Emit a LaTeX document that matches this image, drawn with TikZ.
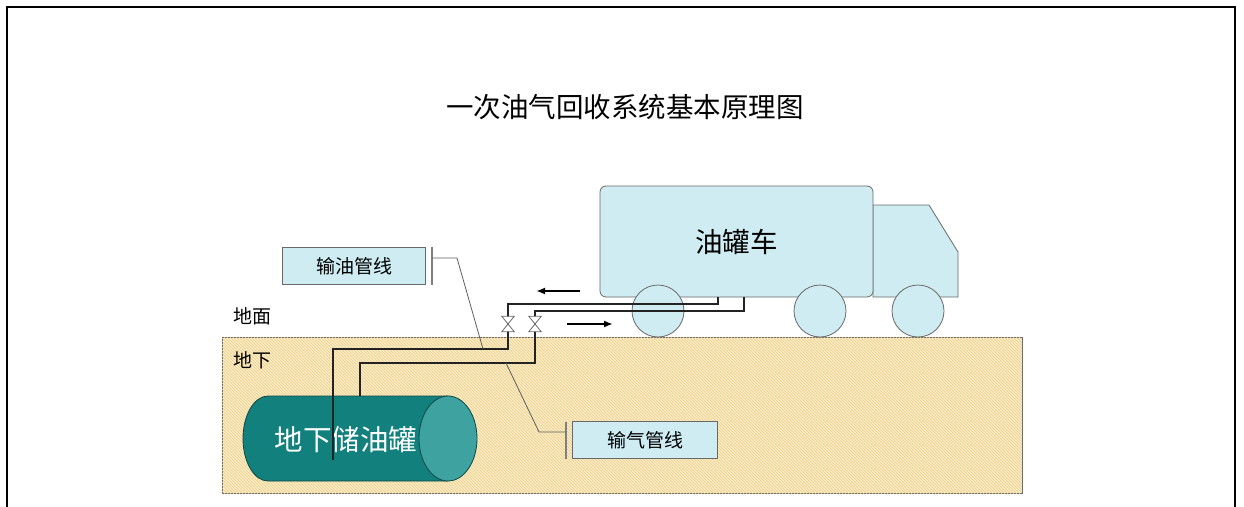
\documentclass[tikz,border=0pt]{standalone}
\usepackage{fontspec}
\newfontfamily\cjk{Noto Sans CJK SC}
\usetikzlibrary{arrows.meta,patterns}
\definecolor{truckc}{RGB}{206,236,242}
\definecolor{edgec}{RGB}{105,105,105}
\definecolor{groundc}{RGB}{250,236,196}
\definecolor{hatchc}{RGB}{236,205,140}
\definecolor{tankc}{RGB}{18,128,124}
\definecolor{capc}{RGB}{62,162,160}
\definecolor{tankedge}{RGB}{12,72,70}
\definecolor{pipec}{RGB}{35,35,35}
\definecolor{leadc}{RGB}{95,95,95}
\tikzset{
  lbl/.style={font=\cjk\fontsize{19}{22}\selectfont, inner sep=0},
  tagbox/.style={draw=edgec, fill=truckc, line width=0.8pt, inner sep=0, font=\cjk\fontsize{19}{22}\selectfont},
  truckpart/.style={draw=edgec, fill=truckc, line width=0.8pt},
  wheel/.style={circle, draw=edgec, fill=truckc, line width=0.8pt, minimum size=52pt, inner sep=0},
  pipe/.style={draw=pipec, line width=2.6pt},
  leader/.style={draw=leadc, line width=0.8pt},
  bracket/.style={draw=leadc!80, line width=1.2pt},
  flow/.style={draw=black, line width=1.8pt, -{Latex[length=9pt,width=7pt]}},
  valve/.style={inner sep=0, minimum width=12pt, minimum height=15pt},
  valvebody/.style={draw=edgec, fill=white, line width=0.8pt, line join=miter}
}
\begin{document}
\begin{tikzpicture}[x=1pt,y=-1pt]
\useasboundingbox (0,0) rectangle (1244,506);
\fill[white] (0,0) rectangle (1244,506);
% frame
\draw[line width=2.6pt] (7,508) -- (7,7) -- (1235,7) -- (1235,508);
% title
\node[font=\cjk\fontsize{27.5}{30}\selectfont, inner sep=0] (title) at (625,107) {一次油气回收系统基本原理图};
% ground
\node[draw=edgec, line width=0.8pt, fill=groundc, minimum width=800pt, minimum height=156pt, inner sep=0,
      postaction={pattern=north west lines, pattern color=hatchc}] (ground) at (622,415) {};
\node[lbl] (surface) at (252,316) {地面};
\node[lbl] (under) at (252,360) {地下};
% tank
\filldraw[fill=tankc, draw=tankedge, line width=0.8pt]
  (448,396) -- (268,396) arc[start angle=270, end angle=90, x radius=25, y radius=42.5] -- (448,481) -- cycle;
\filldraw[fill=capc, draw=tankedge, line width=0.8pt] (448,438.5) ellipse[x radius=29, y radius=42.5];
\node[font=\cjk\fontsize{28.5}{32}\selectfont, text=white, inner sep=0] (tank) at (346,440) {地下储油罐};
% truck
\filldraw[truckpart] (873,205) -- (929,205) -- (958,252) -- (958,297) -- (873,297) -- cycle;
\node[truckpart, rounded corners=6pt, minimum width=273pt, minimum height=111pt, inner sep=0,
      font=\cjk\fontsize{27.5}{30}\selectfont] (cargo) at (736.5,241.5) {油罐车};
\node[wheel] (w1) at (658,311) {};
\node[wheel] (w2) at (820,311) {};
\node[wheel] (w3) at (918,311) {};
% valves
\node[valve] (v1) at (508,324) {};
\node[valve] (v2) at (535,324) {};
\coordinate (oilin) at (333,460);
\coordinate (gasin) at (360,396);
\coordinate (oilport) at (718,297);
\coordinate (gasport) at (744,297);
% pipes
\draw[pipe] (oilin) -- (333,349) -- (508,349) -- (v1.south) -- (v1.north) -- (508,304) -- (718,304) -- (oilport);
\draw[pipe] (gasin) -- (360,363) -- (535,363) -- (v2.south) -- (v2.north) -- (535,311) -- (744,311) -- (gasport);
\foreach \v in {v1,v2}
  \filldraw[valvebody] (\v.north west) -- (\v.north east) -- (\v.south west) -- (\v.south east) -- cycle;
% flow arrows
\coordinate (a1s) at (580,291); \coordinate (a1e) at (536,291);
\coordinate (a2s) at (567,324); \coordinate (a2e) at (613,324);
\draw[flow] (a1s) -- (a1e);
\draw[flow] (a2s) -- (a2e);
% labels
\node[tagbox, minimum width=143pt, minimum height=37pt] (oiltag) at (354,266) {输油管线};
\coordinate (oilbr) at (432,258);
\coordinate (oiltarget) at (483,349);
\draw[bracket] (432,247) -- (432,285);
\draw[leader] (oilbr) -- (457,258) -- (oiltarget);
\node[tagbox, minimum width=145pt, minimum height=37pt] (gastag) at (645,440) {输气管线};
\coordinate (gasbr) at (566,432);
\coordinate (gastarget) at (506,363);
\draw[bracket] (566,422) -- (566,459);
\draw[leader] (gasbr) -- (539,432) -- (gastarget);
\end{tikzpicture}
\end{document}
